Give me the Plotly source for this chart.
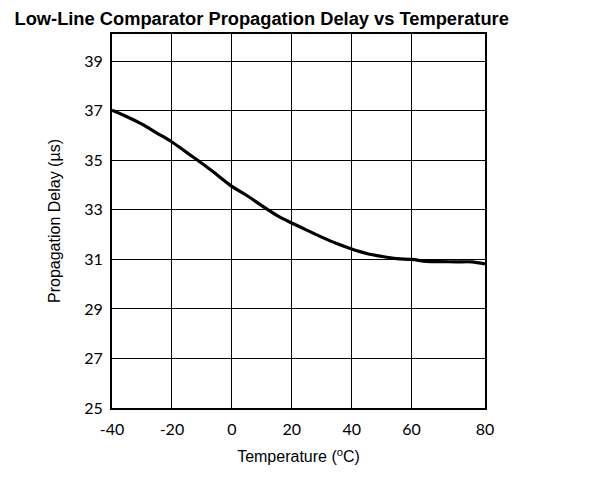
import plotly.graph_objects as go

# Data
temperature = [-40, -35, -30, -25, -20, -15, -10, -5, 0, 5, 10, 15, 20, 25, 30, 35, 40,
               45, 50, 55, 60, 65, 70, 75, 80, 84.5]
delay = [37.02, 36.76, 36.46, 36.10, 35.74, 35.31, 34.88, 34.42, 33.95, 33.58, 33.17,
         32.78, 32.47, 32.18, 31.90, 31.64, 31.42, 31.24, 31.12, 31.03, 31.00, 30.92,
         30.91, 30.90, 30.90, 30.82]

x_tickvals = [-40, -20, 0, 20, 40, 60, 84.5]
x_ticktext = ["-40", "-20", "0", "20", "40", "60", "80"]
y_tickvals = [25, 27, 29, 31, 33, 35, 37, 39]

fig = go.Figure()
fig.add_trace(go.Scatter(x=temperature, y=delay, mode="lines",
                         line=dict(color="black", width=3.2, shape="spline"),
                         showlegend=False, hoverinfo="skip"))

tick_font = dict(family="Lato, 'Open Sans', sans-serif", size=16, color="black")
label_font = dict(family="Liberation Sans, Arial, sans-serif", size=16, color="black")

fig.update_layout(
    width=604, height=469,
    margin=dict(l=104, r=126.5, t=26, b=69),
    paper_bgcolor="white", plot_bgcolor="white",
    title=dict(text="<b>Low-Line Comparator Propagation Delay vs Temperature</b>",
               font=dict(family="Liberation Sans, Arial, sans-serif", size=18.3, color="black"),
               x=0.42, xanchor="center", y=0.978, yanchor="middle"),
    xaxis=dict(range=[-40, 84.5], tickvals=x_tickvals, ticktext=x_ticktext,
               showgrid=True, gridcolor="black", gridwidth=1,
               showline=True, linecolor="black", linewidth=2, mirror=True,
               zeroline=False, ticks="", tickfont=tick_font, ticklabelstandoff=6,
               title=dict(text="Temperature (<sup>o</sup>C)", standoff=14, font=label_font)),
    yaxis=dict(range=[25, 40.1], tickvals=y_tickvals,
               showgrid=True, gridcolor="black", gridwidth=1,
               showline=True, linecolor="black", linewidth=2, mirror=True,
               zeroline=False, ticks="", tickfont=tick_font, ticklabelstandoff=4,
               title=dict(text="Propagation Delay (µs)", standoff=20, font=label_font)),
)

fig.write_html("out.html")
